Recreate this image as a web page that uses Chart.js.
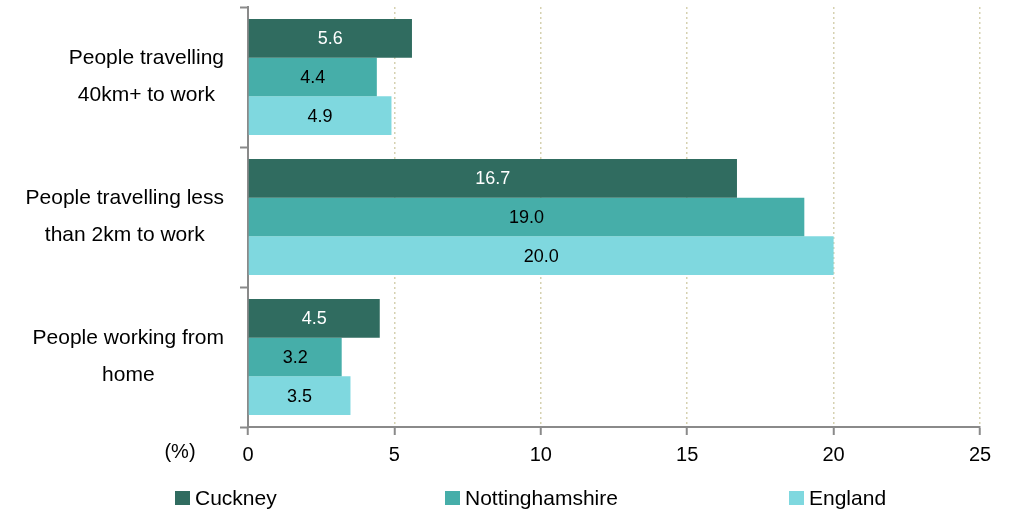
<!DOCTYPE html>
<html>
<head>
<meta charset="utf-8">
<script src="https://cdn.jsdelivr.net/npm/chart.js@4/dist/chart.umd.min.js"></script>
<style>
html,body{margin:0;padding:0;background:#fff;}
#wrap{width:1015px;height:512px;position:relative;}
</style>
</head>
<body>
<div id="wrap"><canvas id="c" width="1015" height="512"></canvas></div>
<script>
const categories = [
  ["People travelling", "40km+ to work"],
  ["People travelling less", "than 2km to work"],
  ["People working from", "home"]
];
const seriesNames = ["Cuckney", "Nottinghamshire", "England"];
const cuckney = [5.6, 16.7, 4.5];
const nottinghamshire = [4.4, 19.0, 3.2];
const england = [4.9, 20.0, 3.5];
const xMin = 0, xMax = 25, xStep = 5;
const unitLabel = "(%)";

const colors = ["#306c60", "#46aea9", "#7fd8df"];
const labelColors = ["#ffffff", "#000000", "#000000"];
const FONT = '"Liberation Sans", Arial, sans-serif';
const AXIS = "#8a8a8a";

const overlay = {
  id: "overlay",
  afterDatasetsDraw(chart) {
    const ctx = chart.ctx;
    ctx.save();
    // data labels
    ctx.font = "18px " + FONT;
    ctx.textAlign = "center";
    ctx.textBaseline = "middle";
    chart.data.datasets.forEach((ds, di) => {
      const meta = chart.getDatasetMeta(di);
      meta.data.forEach((bar, i) => {
        const cx = (bar.base + bar.x) / 2;
        ctx.fillStyle = labelColors[di];
        ctx.fillText(ds.data[i].toFixed(1), cx, bar.y + 1);
      });
    });
    // category labels
    const ys = chart.scales.y;
    ctx.font = "21px " + FONT;
    ctx.fillStyle = "#000";
    categories.forEach((lines, i) => {
      const y = ys.getPixelForTick(i);
      let w = 0;
      lines.forEach(l => { w = Math.max(w, ctx.measureText(l).width); });
      const cx = 224 - w / 2;
      const gap = 37;
      const y0 = y - gap * (lines.length - 1) / 2;
      lines.forEach((l, k) => ctx.fillText(l, cx, y0 + k * gap));
    });
    // unit label
    ctx.font = "20px " + FONT;
    ctx.fillText(unitLabel, 180, 452);
    // legend
    const legendX = [175, 445, 789];
    ctx.textAlign = "left";
    ctx.font = "21px " + FONT;
    seriesNames.forEach((n, i) => {
      ctx.fillStyle = colors[i];
      ctx.fillRect(legendX[i], 491, 15, 14);
      ctx.fillStyle = "#000";
      ctx.fillText(n, legendX[i] + 20, 499);
    });
    ctx.restore();
  }
};

new Chart(document.getElementById("c"), {
  type: "bar",
  data: {
    labels: categories,
    datasets: [
      { label: seriesNames[0], data: cuckney, backgroundColor: colors[0] },
      { label: seriesNames[1], data: nottinghamshire, backgroundColor: colors[1] },
      { label: seriesNames[2], data: england, backgroundColor: colors[2] }
    ]
  },
  options: {
    indexAxis: "y",
    responsive: false,
    animation: false,
    devicePixelRatio: 1,
    layout: { padding: { top: 7, right: 35, left: 0, bottom: 0 } },
    datasets: { bar: { categoryPercentage: 0.83, barPercentage: 1.0, borderWidth: 0 } },
    plugins: { legend: { display: false }, tooltip: { enabled: false } },
    scales: {
      x: {
        min: xMin, max: xMax,
        ticks: { stepSize: xStep, color: "#000", font: { family: FONT, size: 20 }, padding: 8 },
        grid: {
          color: c => (c.tick && c.tick.value === 0) ? "rgba(0,0,0,0)" : "#d6d1b0",
          lineWidth: 1.5,
          tickColor: AXIS, tickWidth: 2, tickLength: 8
        },
        border: { color: AXIS, width: 2, dash: [2, 3] },
        afterFit(s) { s.height = 512 - 427; }
      },
      y: {
        ticks: { display: false },
        grid: { drawOnChartArea: false, offset: true, tickColor: AXIS, tickWidth: 2, tickLength: 8 },
        border: { color: AXIS, width: 2 },
        afterFit(s) { s.width = 248; }
      }
    }
  },
  plugins: [overlay]
});
</script>
</body>
</html>
